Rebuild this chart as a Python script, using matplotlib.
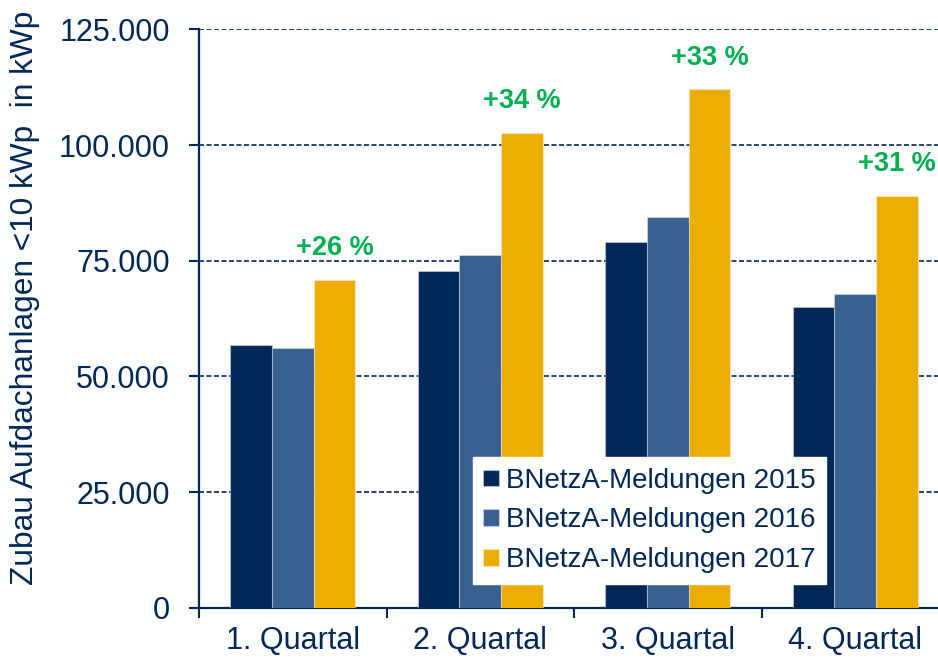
import numpy as np
import matplotlib
matplotlib.use("Agg")
import matplotlib.pyplot as plt
from matplotlib.ticker import FuncFormatter

# Data (kWp)
quarters = ["1. Quartal", "2. Quartal", "3. Quartal", "4. Quartal"]
series_names = ["BNetzA-Meldungen 2015", "BNetzA-Meldungen 2016", "BNetzA-Meldungen 2017"]
values_2015 = [56800, 72800, 79000, 65100]
values_2016 = [56200, 76300, 84400, 67800]
values_2017 = [70800, 102500, 112000, 88900]
growth_labels = ["+26 %", "+34 %", "+33 %", "+31 %"]

navy = "#002856"
colors = ["#002856", "#386192", "#EDAC00"]
green = "#00B050"

plt.rcParams["font.family"] = ["Liberation Sans", "DejaVu Sans"]

fig = plt.figure(figsize=(9.38, 6.6), dpi=100)
ax = fig.add_axes([0.2122, 0.0791, 0.7878, 0.8765])

x = np.arange(len(quarters))
width = 0.222
all_values = [values_2015, values_2016, values_2017]
for i, (vals, name, col) in enumerate(zip(all_values, series_names, colors)):
    ax.bar(x + (i - 1) * width, vals, width, color=col, label=name,
           edgecolor=(1, 1, 1, 0.35), linewidth=0.8, zorder=3)

# growth labels above the 2017 bars
for xi, v, txt in zip(x, values_2017, growth_labels):
    ax.annotate(txt, (xi + width, v), xytext=(0, 23), textcoords="offset points",
                ha="center", va="center", color=green, fontsize=19.5, fontweight="bold")

ax.set_ylim(0, 125000)
ax.set_xlim(-0.5, -0.5 + 739 / 187.5)
ax.set_yticks(np.arange(0, 125001, 25000))
ax.yaxis.set_major_formatter(FuncFormatter(lambda v, p: f"{int(v):,}".replace(",", ".")))
ax.yaxis.grid(True, color=navy, linestyle=(0, (3, 1.5)), linewidth=1.2, zorder=0)
ax.set_axisbelow(True)

# category boundaries as major ticks, names as minor ticks
ax.set_xticks(np.arange(-0.5, 3.0, 1.0))
ax.set_xticklabels([])
ax.set_xticks(x, minor=True)
ax.set_xticklabels(quarters, minor=True)
ax.tick_params(axis="x", which="major", direction="out", length=7, width=1.5, color=navy)
ax.tick_params(axis="x", which="minor", length=0, pad=13, labelsize=22, labelcolor=navy)
ax.tick_params(axis="y", direction="out", length=7, width=1.5, color=navy,
               pad=14, labelsize=22, labelcolor=navy)

for s in ["top", "right"]:
    ax.spines[s].set_visible(False)
for s in ["left", "bottom"]:
    ax.spines[s].set_color(navy)
    ax.spines[s].set_linewidth(1.6)

ax.set_ylabel("Zubau Aufdachanlagen <10 kWp  in kWp", fontsize=22.8, color=navy,
              va="center")
ax.yaxis.set_label_coords(-0.236, 0.535)

leg = ax.legend(loc="upper left", bbox_to_anchor=(0.3704, 0.2602), borderaxespad=0,
                fontsize=20, frameon=True, fancybox=False, framealpha=1,
                edgecolor="white", handlelength=0.55, handleheight=0.55,
                handletextpad=0.25, labelspacing=0.49, borderpad=0.38)
for t in leg.get_texts():
    t.set_color(navy)
leg.set_zorder(5)

fig.savefig("out.png", dpi=100)
